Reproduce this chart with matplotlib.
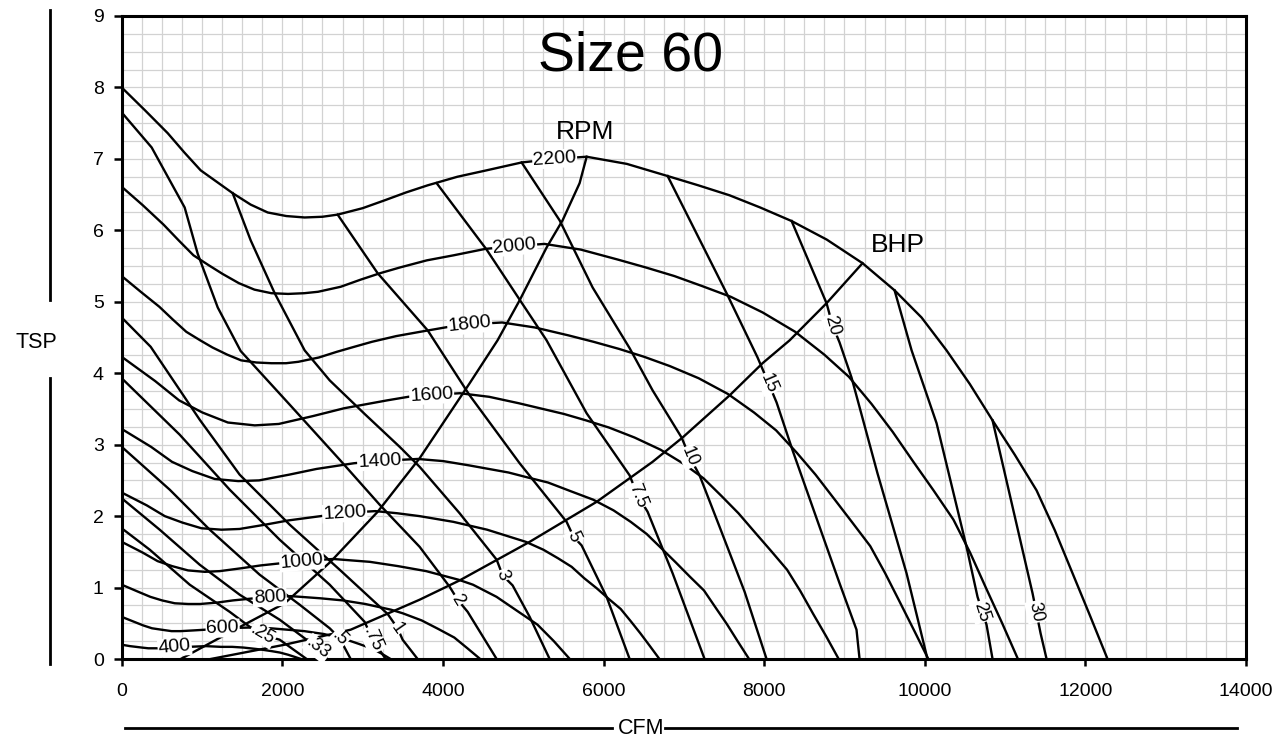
import numpy as np
import matplotlib
matplotlib.use("Agg")
import matplotlib.pyplot as plt
from matplotlib.lines import Line2D

plt.rcParams["font.family"] = ["Liberation Sans", "DejaVu Sans"]

# ---- fan curves (CFM vs TSP) ----
cfm_2200 = [0, 290, 573, 780, 983, 1195, 1382, 1606, 1818, 2050, 2278, 2500, 2689, 3000, 3274, 3540, 3810, 4180, 4544, 4980, 5390, 5790, 6290, 6798, 7180, 7570, 7950, 8342, 8780, 9225, 9624, 9960, 10271, 10560, 10844, 11120, 11392, 11620, 11840, 12060, 12276]
tsp_2200 = [8.00, 7.68, 7.36, 7.09, 6.84, 6.67, 6.52, 6.36, 6.25, 6.20, 6.18, 6.19, 6.22, 6.31, 6.42, 6.53, 6.63, 6.75, 6.84, 6.95, 7.00, 7.03, 6.93, 6.76, 6.63, 6.49, 6.32, 6.13, 5.87, 5.54, 5.16, 4.78, 4.32, 3.85, 3.34, 2.86, 2.36, 1.80, 1.20, 0.60, 0.00]
cfm_2000 = [0, 264, 521, 709, 894, 1086, 1256, 1460, 1653, 1864, 2071, 2273, 2445, 2727, 2976, 3218, 3464, 3800, 4131, 4527, 4900, 5264, 5718, 6180, 6527, 6882, 7227, 7584, 7982, 8386, 8749, 9055, 9337, 9600, 9858, 10109, 10357, 10564, 10764, 10964, 11160]
tsp_2000 = [6.61, 6.35, 6.08, 5.86, 5.65, 5.51, 5.39, 5.26, 5.17, 5.12, 5.11, 5.12, 5.14, 5.21, 5.31, 5.40, 5.48, 5.58, 5.65, 5.74, 5.78, 5.81, 5.73, 5.59, 5.48, 5.36, 5.22, 5.07, 4.85, 4.58, 4.26, 3.95, 3.57, 3.18, 2.76, 2.36, 1.95, 1.49, 0.99, 0.50, 0.00]
cfm_1800 = [0, 237, 469, 638, 804, 978, 1131, 1314, 1487, 1677, 1864, 2046, 2200, 2455, 2679, 2896, 3117, 3420, 3718, 4075, 4410, 4737, 5146, 5562, 5875, 6194, 6505, 6825, 7184, 7548, 7874, 8149, 8404, 8640, 8873, 9098, 9321, 9507, 9688, 9867, 10044]
tsp_1800 = [5.36, 5.14, 4.93, 4.75, 4.58, 4.46, 4.36, 4.26, 4.18, 4.15, 4.14, 4.14, 4.16, 4.22, 4.30, 4.37, 4.44, 4.52, 4.58, 4.65, 4.69, 4.71, 4.64, 4.53, 4.44, 4.34, 4.23, 4.10, 3.93, 3.71, 3.45, 3.20, 2.89, 2.58, 2.24, 1.91, 1.58, 1.20, 0.80, 0.40, 0.00]
cfm_1600 = [0, 417, 715, 1005, 1322, 1657, 1956, 2381, 2771, 3305, 3622, 4211, 4575, 4944, 5506, 5782, 6067, 6386, 6709, 7000, 7244, 7470, 7680, 7887, 8088, 8285, 8451, 8611, 8771, 8928]
tsp_1600 = [4.23, 3.89, 3.62, 3.45, 3.31, 3.27, 3.29, 3.40, 3.51, 3.62, 3.68, 3.72, 3.67, 3.58, 3.43, 3.34, 3.24, 3.10, 2.93, 2.73, 2.53, 2.28, 2.04, 1.77, 1.51, 1.25, 0.95, 0.63, 0.32, 0.00]
cfm_1400 = [0, 365, 626, 880, 1157, 1450, 1711, 2084, 2425, 2892, 3169, 3685, 4003, 4326, 4818, 5059, 5309, 5588, 5871, 6125, 6338, 6537, 6720, 6901, 7077, 7250, 7395, 7535, 7675, 7812]
tsp_1400 = [3.22, 2.97, 2.76, 2.63, 2.52, 2.49, 2.50, 2.58, 2.66, 2.74, 2.77, 2.80, 2.77, 2.71, 2.61, 2.54, 2.47, 2.35, 2.23, 2.08, 1.92, 1.75, 1.55, 1.35, 1.15, 0.96, 0.72, 0.49, 0.24, 0.00]
cfm_1200 = [0, 313, 536, 754, 992, 1243, 1467, 1786, 2078, 2479, 2716, 3158, 3431, 3708, 4129, 4550, 5032, 5250, 5433, 5603, 5760, 5915, 6066, 6214, 6338, 6458, 6578, 6696]
tsp_1200 = [2.33, 2.15, 2.00, 1.91, 1.83, 1.81, 1.82, 1.88, 1.94, 2.00, 2.04, 2.07, 2.04, 2.00, 1.92, 1.81, 1.64, 1.53, 1.41, 1.29, 1.13, 0.99, 0.84, 0.70, 0.53, 0.36, 0.18, 0.00]
cfm_1000 = [0, 260, 447, 628, 826, 1035, 1222, 1488, 1732, 2065, 2263, 2632, 2859, 3090, 3441, 3791, 4193, 4374, 4668, 4929, 5178, 5381, 5580]
tsp_1000 = [1.64, 1.49, 1.37, 1.30, 1.24, 1.22, 1.23, 1.27, 1.31, 1.35, 1.37, 1.40, 1.38, 1.36, 1.30, 1.23, 1.11, 1.04, 0.87, 0.67, 0.48, 0.25, 0.00]
cfm_800 = [0, 208, 357, 503, 661, 828, 978, 1190, 1385, 1652, 2105, 2472, 2753, 3033, 3354, 3499, 3735, 3943, 4142, 4305, 4464]
tsp_800 = [1.04, 0.94, 0.87, 0.82, 0.78, 0.77, 0.77, 0.79, 0.82, 0.85, 0.88, 0.85, 0.82, 0.77, 0.69, 0.64, 0.54, 0.42, 0.30, 0.15, 0.00]
cfm_600 = [0, 156, 268, 377, 496, 621, 733, 893, 1039, 1239, 1579, 1854, 2064, 2275, 2516, 2625, 2801, 2957, 3107, 3229, 3348]
tsp_600 = [0.59, 0.52, 0.47, 0.43, 0.41, 0.39, 0.39, 0.40, 0.41, 0.43, 0.44, 0.43, 0.41, 0.39, 0.35, 0.32, 0.27, 0.21, 0.15, 0.08, 0.00]
cfm_400 = [0, 104, 179, 251, 331, 414, 489, 595, 693, 826, 1053, 1236, 1376, 1517, 1677, 1750, 1867, 1971, 2071, 2153, 2232]
tsp_400 = [0.20, 0.18, 0.17, 0.16, 0.15, 0.15, 0.15, 0.16, 0.17, 0.17, 0.18, 0.17, 0.17, 0.16, 0.14, 0.13, 0.11, 0.09, 0.06, 0.03, 0.00]

rpm_names = ["400", "600", "800", "1000", "1200", "1400", "1600", "1800", "2000", "2200"]
rpm_label_cfm = [660, 1257, 1843, 2241, 2776, 3212, 3860, 4333, 4893, 5391]

# ---- boundary lines ----
rpm_line_cfm = [735, 1407, 2030, 2600, 3187, 3710, 4333, 4680, 4955, 5291, 5490, 5702, 5790]
rpm_line_tsp = [0.00, 0.41, 0.78, 1.36, 2.06, 2.81, 3.86, 4.46, 5.02, 5.76, 6.14, 6.66, 7.03]
bhp_line_cfm = [1108, 2030, 2851, 3710, 4208, 5080, 5914, 6611, 6984, 7570, 7980, 8317, 8777, 9225]
bhp_line_tsp = [0.00, 0.20, 0.41, 0.83, 1.10, 1.64, 2.20, 2.76, 3.10, 3.69, 4.14, 4.46, 4.98, 5.54]

# ---- brake horsepower lines ----
cfm_bhp_025 = [0, 349, 847, 1345, 1619, 1755, 1967, 2303]
tsp_bhp_025 = [1.83, 1.53, 1.04, 0.66, 0.43, 0.34, 0.27, 0.00]
cfm_bhp_033 = [0, 473, 971, 1469, 1967, 2278, 2440, 2560]
tsp_bhp_033 = [2.25, 1.81, 1.32, 0.90, 0.55, 0.29, 0.15, 0.00]
cfm_bhp_05 = [0, 598, 1096, 1718, 2216, 2590, 2714, 2851]
tsp_bhp_05 = [2.97, 2.37, 1.81, 1.18, 0.76, 0.43, 0.29, 0.00]
cfm_bhp_075 = [0, 722, 1345, 1967, 2590, 3025, 3125, 3287]
tsp_bhp_075 = [3.93, 3.14, 2.37, 1.67, 1.04, 0.52, 0.27, 0.00]
cfm_bhp_1 = [0, 361, 971, 1469, 2092, 2714, 3312, 3436, 3498, 3685]
tsp_bhp_1 = [4.78, 4.37, 3.35, 2.58, 1.88, 1.25, 0.63, 0.43, 0.27, 0.00]
cfm_bhp_2 = [0, 373, 784, 947, 1196, 1482, 2092, 2714, 3212, 3710, 4084, 4183, 4308, 4669]
tsp_bhp_2 = [7.65, 7.16, 6.32, 5.67, 4.92, 4.31, 3.56, 2.79, 2.16, 1.57, 1.01, 0.83, 0.66, 0.00]
cfm_bhp_3 = [1382, 1606, 1905, 2278, 2590, 3025, 3461, 3710, 4208, 4669, 4744, 4868, 5080, 5329]
tsp_bhp_3 = [6.52, 5.86, 5.12, 4.32, 3.90, 3.43, 2.97, 2.69, 2.04, 1.39, 1.17, 1.03, 0.59, 0.00]
cfm_bhp_5 = [2689, 3187, 3810, 4333, 4955, 5540, 5627, 5727, 6038, 6325]
tsp_bhp_5 = [6.22, 5.40, 4.60, 3.69, 2.74, 1.92, 1.71, 1.59, 0.87, 0.00]
cfm_bhp_75 = [3922, 4544, 4955, 5291, 5789, 6325, 6424, 6549, 6860, 7258]
tsp_bhp_75 = [6.66, 5.73, 5.03, 4.46, 3.44, 2.57, 2.29, 2.06, 1.20, 0.00]
cfm_bhp_10 = [4980, 5453, 5864, 6325, 6611, 6972, 7072, 7196, 7445, 7757, 8030]
tsp_bhp_10 = [6.95, 6.14, 5.20, 4.35, 3.76, 3.10, 2.83, 2.57, 1.85, 0.94, 0.00]
cfm_bhp_15 = [6798, 7532, 7918, 8055, 8155, 8354, 8690, 8939, 9150, 9188]
tsp_bhp_15 = [6.76, 5.12, 4.22, 3.86, 3.59, 2.92, 1.85, 1.06, 0.41, 0.00]
cfm_bhp_20 = [8342, 8777, 8852, 8939, 9088, 9411, 9773, 10034]
tsp_bhp_20 = [6.13, 4.98, 4.67, 4.43, 3.94, 2.60, 1.20, 0.00]
cfm_bhp_25 = [9624, 9836, 10147, 10520, 10657, 10769, 10844]
tsp_bhp_25 = [5.16, 4.32, 3.30, 1.57, 0.87, 0.48, 0.00]
cfm_bhp_30 = [10844, 11093, 11342, 11442, 11517]
tsp_bhp_30 = [3.34, 2.13, 0.92, 0.36, 0.00]

bhp_names = [".25", ".33", ".5", ".75", "1", "2", "3", "5", "7.5", "10", "15", "20", "25", "30"]
bhp_label_cfm = [1755, 2440, 2714, 3125, 3436, 4183, 4744, 5627, 6424, 7072, 8055, 8852, 10700, 11380]
bhp_label_tsp = [0.34, 0.15, 0.29, 0.27, 0.43, 0.83, 1.17, 1.71, 2.29, 2.83, 3.86, 4.67, 0.66, 0.66]

rpm_curves = [(cfm_400, tsp_400), (cfm_600, tsp_600), (cfm_800, tsp_800), (cfm_1000, tsp_1000),
              (cfm_1200, tsp_1200), (cfm_1400, tsp_1400), (cfm_1600, tsp_1600), (cfm_1800, tsp_1800),
              (cfm_2000, tsp_2000), (cfm_2200, tsp_2200)]
bhp_curves = [(cfm_bhp_025, tsp_bhp_025), (cfm_bhp_033, tsp_bhp_033), (cfm_bhp_05, tsp_bhp_05),
              (cfm_bhp_075, tsp_bhp_075), (cfm_bhp_1, tsp_bhp_1), (cfm_bhp_2, tsp_bhp_2),
              (cfm_bhp_3, tsp_bhp_3), (cfm_bhp_5, tsp_bhp_5), (cfm_bhp_75, tsp_bhp_75),
              (cfm_bhp_10, tsp_bhp_10), (cfm_bhp_15, tsp_bhp_15), (cfm_bhp_20, tsp_bhp_20),
              (cfm_bhp_25, tsp_bhp_25), (cfm_bhp_30, tsp_bhp_30)]

W, H = 1288, 744
fig = plt.figure(figsize=(W / 100, H / 100), dpi=100)
ax = fig.add_axes([121.7 / W, 1 - 659 / H, (1246 - 121.7) / W, (659 - 16) / H])
ax.set_xlim(0, 14000); ax.set_ylim(0, 9)
ax.set_xticks(np.arange(0, 14001, 2000)); ax.set_yticks(np.arange(0, 10, 1))
ax.set_xticks(np.arange(0, 14001, 250), minor=True); ax.set_yticks(np.arange(0, 9.01, 0.25), minor=True)
ax.grid(which="both", color="#d2d2d2", lw=0.9)
ax.set_axisbelow(True)
ax.tick_params(which="minor", length=0)
ax.tick_params(axis="x", which="major", length=5, width=1.8, pad=12, labelsize=14)
ax.tick_params(axis="y", which="major", length=6, width=1.8, pad=7, labelsize=14)
for s in ax.spines.values():
    s.set_linewidth(2.2)

lw = 1.7
for xs, ys in rpm_curves + bhp_curves:
    ax.plot(xs, ys, color="black", lw=lw, solid_joinstyle="round", zorder=3)
ax.plot(rpm_line_cfm, rpm_line_tsp, color="black", lw=lw, zorder=3)
ax.plot(bhp_line_cfm, bhp_line_tsp, color="black", lw=lw, zorder=3)

def seg_angle(xs, ys, x0):
    i = int(np.clip(np.searchsorted(xs, x0), 1, len(xs) - 1))
    p1 = ax.transData.transform((xs[i - 1], ys[i - 1]))
    p2 = ax.transData.transform((xs[i], ys[i]))
    return np.degrees(np.arctan2(p2[1] - p1[1], p2[0] - p1[0]))

box = dict(facecolor="white", edgecolor="none", pad=0.6)
for name, x0, (xs, ys) in zip(rpm_names, rpm_label_cfm, rpm_curves):
    y0 = np.interp(x0, xs, ys)
    ax.text(x0, y0, name, fontsize=14, ha="center", va="center", rotation=seg_angle(xs, ys, x0),
            rotation_mode="anchor", bbox=box, zorder=5)
for name, x0, y0, (xs, ys) in zip(bhp_names, bhp_label_cfm, bhp_label_tsp, bhp_curves):
    ax.text(x0, y0, name, fontsize=13, ha="center", va="center", rotation=seg_angle(xs, ys, x0),
            rotation_mode="anchor", bbox=box, zorder=5)

ax.text(6330, 8.44, "Size 60", fontsize=40, ha="center", va="center")
ax.text(5764, 7.37, "RPM", fontsize=19, ha="center", va="center")
ax.text(9661, 5.80, "BHP", fontsize=19, ha="center", va="center")

# axis titles with rules
fig.add_artist(Line2D([50 / W, 50 / W], [1 - 10 / H, 1 - 300 / H], color="black", lw=2))
fig.add_artist(Line2D([50 / W, 50 / W], [1 - 378 / H, 1 - 664 / H], color="black", lw=2))
fig.text(36 / W, 1 - 342 / H, "TSP", fontsize=15.5, ha="center", va="center")
fig.add_artist(Line2D([125 / W, 612 / W], [1 - 728 / H, 1 - 728 / H], color="black", lw=2))
fig.add_artist(Line2D([665 / W, 1237 / W], [1 - 728 / H, 1 - 728 / H], color="black", lw=2))
fig.text(641 / W, 1 - 728 / H, "CFM", fontsize=15.5, ha="center", va="center")

fig.savefig("out.png", dpi=100)
